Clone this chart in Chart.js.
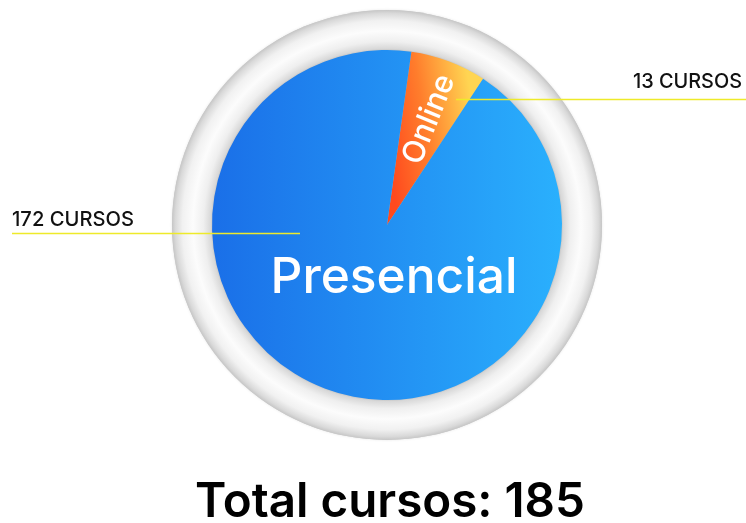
<!DOCTYPE html>
<html>
<head>
<meta charset="utf-8">
<script src="https://cdn.jsdelivr.net/npm/chart.js@4.4.1/dist/chart.umd.min.js"></script>
<style>
  html, body { margin: 0; padding: 0; background: #ffffff; }
  #wrap { width: 746px; height: 523px; }
</style>
</head>
<body>
<div id="wrap"><canvas id="c" width="746" height="523"></canvas></div>
<script>
const categories = ['Online', 'Presencial'];
const courseCounts = [13, 172];
const countLabels = ['13 CURSOS', '172 CURSOS'];
const totalLabel = 'Total cursos: 185';

const FONT = 'Inter, "Open Sans", Lato, sans-serif';

function fitFont(ctx, text, weight, width) {
  ctx.font = weight + ' 100px ' + FONT;
  const w = ctx.measureText(text).width;
  return weight + ' ' + (100 * width / w).toFixed(2) + 'px ' + FONT;
}

function sliceFill(context) {
  const chart = context.chart;
  const area = chart.chartArea;
  if (!area) return '#2196f3';
  const c = chart.ctx;
  if (context.dataIndex === 0) {
    const g = c.createLinearGradient(area.left + 183, area.top + 150, area.left + 273, area.top + 136);
    g.addColorStop(0, '#ff4a1e');
    g.addColorStop(0.45, '#ff7d2c');
    g.addColorStop(1, '#ffd552');
    return g;
  }
  const g = c.createLinearGradient(area.left, 0, area.right, 0);
  g.addColorStop(0, '#1a6fe8');
  g.addColorStop(1, '#2ab0fd');
  return g;
}

const ringPlugin = {
  id: 'ring',
  beforeDatasetsDraw(chart) {
    const arc = chart.getDatasetMeta(0).data[0];
    if (!arc) return;
    const c = chart.ctx;
    const x = arc.x, y = arc.y, r = arc.outerRadius;
    const R = r + 40;
    c.save();
    c.shadowColor = 'rgba(0,0,0,0.10)';
    c.shadowBlur = 3;
    c.beginPath();
    c.arc(x, y, R, 0, Math.PI * 2);
    c.fillStyle = '#d0d0d0';
    c.fill();
    c.shadowColor = 'transparent';
    const g = c.createRadialGradient(x, y, r - 2, x, y, R);
    g.addColorStop(0, '#b4b4b4');
    g.addColorStop(0.08, '#d8d8d8');
    g.addColorStop(0.25, '#efefef');
    g.addColorStop(0.5, '#fcfcfc');
    g.addColorStop(0.75, '#f1f1f1');
    g.addColorStop(0.92, '#d9d9d9');
    g.addColorStop(1, '#c6c6c6');
    c.beginPath();
    c.arc(x, y, R, 0, Math.PI * 2);
    c.fillStyle = g;
    c.fill();
    c.restore();
  },
  afterDatasetsDraw(chart) {
    const arc = chart.getDatasetMeta(0).data[0];
    if (!arc) return;
    const c = chart.ctx;
    c.save();
    // leader lines
    c.strokeStyle = '#eeea2a';
    c.lineWidth = 1.5;
    c.beginPath();
    c.moveTo(12, 233.5); c.lineTo(300, 233.5);
    c.moveTo(456, 99.5); c.lineTo(746, 99.5);
    c.stroke();

    // count labels
    c.fillStyle = '#111111';
    c.textBaseline = 'alphabetic';
    c.textAlign = 'left';
    c.font = fitFont(c, countLabels[1], 500, 122);
    c.fillText(countLabels[1], 12, 226);
    c.textAlign = 'right';
    c.font = fitFont(c, countLabels[0], 500, 109);
    c.fillText(countLabels[0], 742, 88);

    // slice labels
    c.fillStyle = '#ffffff';
    c.textAlign = 'center';
    c.font = fitFont(c, categories[1], 500, 247);
    c.fillText(categories[1], 394, 293);

    c.save();
    c.translate(428, 119);
    c.rotate(-68 * Math.PI / 180);
    c.textBaseline = 'middle';
    c.font = fitFont(c, categories[0], 500, 94);
    c.fillText(categories[0], 0, 1);
    c.restore();

    // total
    c.fillStyle = '#000000';
    c.textAlign = 'center';
    c.textBaseline = 'alphabetic';
    c.font = fitFont(c, totalLabel, 600, 390);
    c.fillText(totalLabel, 390, 517);
    c.restore();
  }
};

new Chart(document.getElementById('c'), {
  type: 'pie',
  data: {
    labels: categories,
    datasets: [{
      data: courseCounts,
      backgroundColor: sliceFill,
      borderWidth: 0,
      hoverOffset: 0
    }]
  },
  options: {
    responsive: false,
    animation: false,
    devicePixelRatio: 1,
    rotation: 8,
    layout: { padding: { left: 212, right: 184, top: 50, bottom: 123 } },
    plugins: {
      legend: { display: false },
      tooltip: { enabled: false },
      title: { display: false }
    }
  },
  plugins: [ringPlugin]
});
</script>
</body>
</html>
